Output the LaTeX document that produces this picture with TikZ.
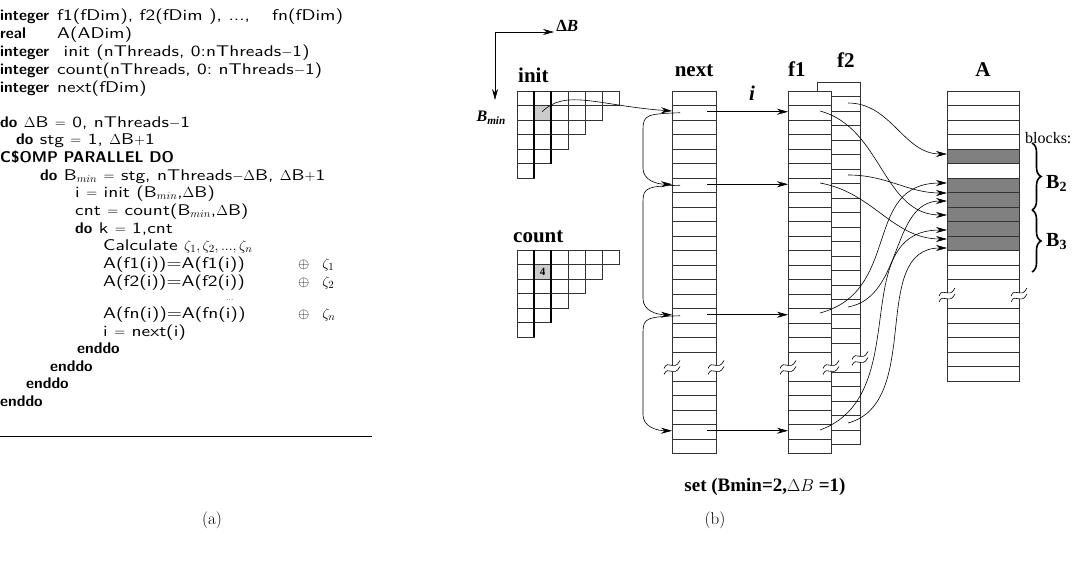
\documentclass[tikz,border=0pt]{standalone}
\usepackage{fontspec}
\usepackage{amsmath}
\usetikzlibrary{positioning, calc, arrows.meta, decorations.pathreplacing}
\newfontfamily\figfont{Liberation Serif}
\newfontfamily\codesans{lmsans10-regular.otf}[FakeStretch=1.25]
\newfontface\codebf{lmsans10-bold.otf}[FakeStretch=1.0]
\newcommand{\kw}[1]{{\codebf #1}}
\newcommand{\codefont}{\codesans\fontsize{15.5}{17}\selectfont}
\tikzset{
    code/.style={anchor=base west, inner sep=0pt, font=\codefont},
    arrtitle/.style={inner sep=0pt, font=\figfont\bfseries\fontsize{21}{21}\selectfont},
    colbox/.style={draw=black!80, line width=0.7pt, fill=white, anchor=north west, inner sep=0pt, outer sep=0pt},
    cellline/.style={draw=black!80, line width=0.7pt},
    link/.style={-{Stealth[length=11pt, width=6pt]}, line width=0.6pt},
    blockbrace/.style={decorate, decoration={brace, amplitude=9pt}, line width=1.6pt},
    cutmark/.pic={
        \fill[white] (-8,2) .. controls (-4,-8) and (2,6) .. (8,-6) -- (8,0) .. controls (2,12) and (-4,-2) .. (-8,8) -- cycle;
        \draw[line width=0.6pt] (-8,2) .. controls (-4,-8) and (2,6) .. (8,-6);
        \draw[line width=0.6pt] (-8,8) .. controls (-4,-2) and (2,12) .. (8,0);
    }
}

\begin{document}
\begin{tikzpicture}[x=1pt, y=-1pt]
    \useasboundingbox (0,0) rectangle (1076,583);

    % --- (a) the loop listing ---
    \node[code] (l1) at (0,21) {\makebox[57pt][l]{\kw{integer}}f1(fDim), f2(fDim~), ...,\hspace{22pt}fn(fDim)};
    \node[code] (l2) at (0,39) {\makebox[57pt][l]{\kw{real}}A(ADim)};
    \node[code] (l3) at (0,57) {\makebox[57pt][l]{\kw{integer}}~init (nThreads, 0:nThreads$-$1)};
    \node[code] (l4) at (0,75) {\makebox[57pt][l]{\kw{integer}}count(nThreads, 0:~nThreads$-$1)};
    \node[code] (l5) at (0,93) {\makebox[57pt][l]{\kw{integer}}next(fDim)};

    \node[code] (l6) at (0,128) {\kw{do} $\Delta$B $=$ 0, nThreads$-$1};
    \node[code] (l7) at (16,145) {\kw{do} stg $=$ 1, $\Delta$B$+$1};
    \node[code] (l8) at (0,162) {\kw{C\$OMP PARALLEL DO}};
    \node[code] (l9) at (40,180) {\kw{do} B$_{min}$ $=$ stg, nThreads$-\Delta$B, $\Delta$B$+$1};
    \node[code] (l10) at (75,197) {i $=$ init (B$_{min}$,$\Delta$B)};
    \node[code] (l11) at (75,215) {cnt $=$ count(B$_{min}$,$\Delta$B)};
    \node[code] (l12) at (75,233) {\kw{do} k $=$ 1,cnt};
    \node[code] (l13) at (103,250) {Calculate $\zeta_1,\zeta_2,...,\zeta_n$};
    \node[code] (l14) at (103,268) {A(f1(i))=A(f1(i))};
    \node[code] (x14) at (298,268) {$\oplus$~~$\zeta_1$};
    \node[code] (l15) at (103,286) {A(f2(i))=A(f2(i))};
    \node[code] (x15) at (298,286) {$\oplus$~~$\zeta_2$};
    \node[code, font=\codesans\scriptsize] (l16) at (226,300) {...};
    \node[code] (l17) at (103,318) {A(fn(i))=A(fn(i))};
    \node[code] (x17) at (298,318) {$\oplus$~~$\zeta_n$};
    \node[code] (l18) at (103,336) {i $=$ next(i)};
    \node[code] (l19) at (77,353) {\kw{enddo}};
    \node[code] (l20) at (50,371) {\kw{enddo}};
    \node[code] (l21) at (26,388) {\kw{enddo}};
    \node[code] (l22) at (0,406) {\kw{enddo}};

    \draw[line width=1pt] (0,436) -- (372,436);
    \node[font=\fontsize{17}{17}\selectfont] (capa) at (212,520) {(a)};

    % --- (b) axes of the init / count tables ---
    \coordinate (axis) at (495,32);
    \draw[link] (axis) -- ++(59,0) node[right, inner sep=2pt, font=\figfont\bfseries\fontsize{17}{17}\selectfont, yshift=6pt] (dBlbl) {Δ\textit{B}};
    \draw[link] (axis) -- ++(0,68) coordinate (axisend);
    \node[anchor=east, inner sep=0pt, font=\figfont\bfseries\itshape\fontsize{16}{16}\selectfont] (Bminlbl) at (506,118) {B$_{\text{\figfont\bfseries\itshape min}}$};

    % init table
    \coordinate (initgrid) at (517,91);
    \fill[black!20] (534,105.5) rectangle (551,120);
    \foreach \r in {0,...,5} {
        \pgfmathtruncatemacro\cmax{5-\r}
        \foreach \c in {0,...,\cmax}
            \draw[cellline] ({517+17*\c},{91+14.5*\r}) rectangle ++(17,14.5);
    }
    \draw[line width=1.5pt] (534,91) -- (534,178);
    \draw[line width=1.5pt] (551,91) -- (551,163.5);
    \node[arrtitle, anchor=base west] (initlbl) at ($(initgrid)+(1,-8)$) {init};
    \coordinate (initsrc) at (542,112);

    % count table
    \coordinate (countgrid) at (517,250);
    \fill[black!20] (534,264.5) rectangle (551,279);
    \foreach \r in {0,...,5} {
        \pgfmathtruncatemacro\cmax{5-\r}
        \foreach \c in {0,...,\cmax}
            \draw[cellline] ({517+17*\c},{250+14.5*\r}) rectangle ++(17,14.5);
    }
    \draw[line width=1.5pt] (534,250) -- (534,337);
    \draw[line width=1.5pt] (551,250) -- (551,322.5);
    \node[font=\figfont\bfseries\fontsize{11}{11}\selectfont, inner sep=0pt] (cnt4) at (542.5,271.75) {4};
    \node[arrtitle, anchor=base west] (countlbl) at ($(countgrid)+(-4,-8)$) {count};

    % next array
    \node[colbox, minimum width=44pt, minimum height=362.5pt] (next) at (672,91) {};
    \foreach \k in {1,...,24} {
        \ifnum\k=19\relax\else \draw[cellline] (672,{91+14.5*\k}) -- (716,{91+14.5*\k}); \fi
    }
    \node[arrtitle, above=14pt of next] (nextlbl) {next};

    % f2 array (behind f1)
    \node[colbox, minimum width=43pt, minimum height=362.5pt] (f2) at (817,82) {};
    \foreach \k in {1,...,24} {
        \ifnum\k=19\relax\else \draw[cellline] (831,{82+14.5*\k}) -- (860,{82+14.5*\k}); \fi
    }
    \node[arrtitle, anchor=base west] (f2lbl) at ($(f2.north west)+(20,-14)$) {f2};

    % f1 array
    \node[colbox, minimum width=43pt, minimum height=362.5pt] (f1) at (788,91) {};
    \foreach \k in {1,...,24} {
        \ifnum\k=19\relax\else \draw[cellline] (788,{91+14.5*\k}) -- (831,{91+14.5*\k}); \fi
    }
    \node[arrtitle, anchor=base west] (f1lbl) at ($(f1.north west)+(0,-14)$) {f1};

    % A array
    \foreach \k in {4,6,7,8,9,10}
        \fill[black!50] (947,{91+14.5*\k}) rectangle (1019,{91+14.5*(\k+1)});
    \node[colbox, fill=none, minimum width=72pt, minimum height=290pt] (A) at (947,91) {};
    \foreach \k in {1,...,19} {
        \ifnum\k=14\relax\else \draw[cellline] (947,{91+14.5*\k}) -- (1019,{91+14.5*\k}); \fi
    }
    \node[arrtitle, above=14pt of A] (Albl) {A};

    % cuts
    \pic at (672,366.5) {cutmark};
    \pic at (716,366.5) {cutmark};
    \pic at (788,366.5) {cutmark};
    \pic at (831,366.5) {cutmark};
    \pic at (860,357.5) {cutmark};
    \pic at (947,294) {cutmark};
    \pic at (1019,294) {cutmark};

    % chain through next
    \coordinate (nx1) at (672,111);
    \draw[link] (initsrc) .. controls (565,88) and (600,106) .. (nx1);
    \foreach \a/\b in {1/6, 6/15, 15/23} {
        \coordinate (from-\a) at (680,{98.25+14.5*\a});
        \coordinate (to-\b) at (672,{97.25+14.5*\b});
        \draw[link] (from-\a) .. controls +(-32,1) and +(0,-14) .. ($(from-\a)+(-37,16)$)
            -- ($(to-\b)+(-29,-16)$) .. controls +(0,12) and +(-15,0) .. (to-\b);
    }
    \node[font=\figfont\bfseries\itshape\fontsize{21}{21}\selectfont, inner sep=0pt] (ilbl) at (752,93) {i};
    \foreach \a in {1,6,15,23} {
        \coordinate (ns-\a) at (707,{97.25+14.5*\a});
        \coordinate (f1in-\a) at (788,{97.25+14.5*\a});
        \draw[link] (ns-\a) -- (f1in-\a);
    }

    % f1, f2 into A
    \coordinate (f2s-1) at (848,103);   \coordinate (Ain-1) at (947,154);
    \coordinate (f1s-1) at (820,111);   \coordinate (Ain-2) at (947,215);
    \coordinate (f2s-6) at (848,175);   \coordinate (Ain-3) at (947,193);
    \coordinate (f1s-6) at (820,183);   \coordinate (Ain-4) at (947,239);
    \coordinate (f1s-15) at (820,313);  \coordinate (Ain-5) at (947,183);
    \coordinate (f2s-15) at (848,307);  \coordinate (Ain-6) at (947,201);
    \coordinate (f1s-23) at (820,430);  \coordinate (Ain-7) at (947,230);
    \coordinate (f2s-23) at (848,423);  \coordinate (Ain-8) at (947,248);
    \draw[link] (f2s-1) to[out=0, in=180] (Ain-1);
    \draw[link] (f1s-1) to[out=-15, in=180] (Ain-2);
    \draw[link] (f2s-6) to[out=0, in=180] (Ain-3);
    \draw[link] (f1s-6) to[out=-10, in=180] (Ain-4);
    \draw[link] (f1s-15) to[out=15, in=180, looseness=1.2] (Ain-5);
    \draw[link] (f2s-15) to[out=10, in=180] (Ain-6);
    \draw[link] (f1s-23) to[out=20, in=180, looseness=1.1] (Ain-7);
    \draw[link] (f2s-23) to[out=15, in=180] (Ain-8);

    % blocks
    \node[anchor=base west, inner sep=0pt, font=\figfont\fontsize{16}{16}\selectfont] (blocks) at (1025,143) {blocks:};
    \coordinate (b2top) at (1032,143);
    \coordinate (b2bot) at (1032,210);
    \coordinate (b3bot) at (1032,272);
    \draw[blockbrace] (b2top) -- (b2bot);
    \draw[blockbrace] (b2bot) -- (b3bot);
    \node[anchor=base west, inner sep=0pt, font=\figfont\bfseries\fontsize{20}{20}\selectfont] (B2) at (1046,188) {B$_{\text{\figfont\bfseries 2}}$};
    \node[anchor=base west, inner sep=0pt, font=\figfont\bfseries\fontsize{20}{20}\selectfont] (B3) at (1046,246) {B$_{\text{\figfont\bfseries 3}}$};

    \node[font=\figfont\bfseries\fontsize{19}{19}\selectfont, inner sep=0pt] (setlbl) at (765,487) {set (Bmin=2,$\Delta B$ =1)};
    \node[font=\fontsize{17}{17}\selectfont] (capb) at (715,520) {(b)};
\end{tikzpicture}
\end{document}
